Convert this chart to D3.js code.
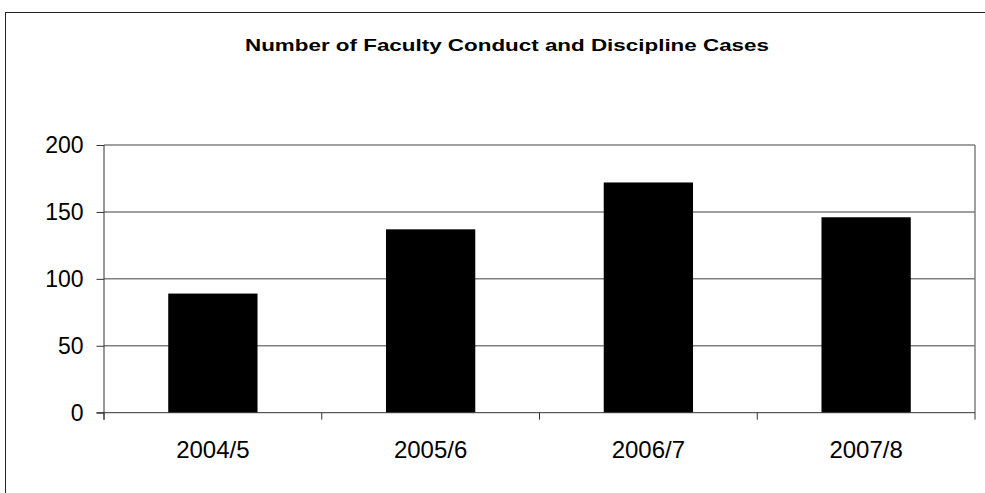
<!DOCTYPE html>
<html>
<head>
<meta charset="utf-8">
<script src="https://cdn.jsdelivr.net/npm/d3@7"></script>
<style>
  body { margin: 0; background: #fff; }
  text { font-family: "Liberation Sans", Arial, sans-serif; }
</style>
</head>
<body>
<div id="chart"></div>
<script>
const title = "Number of Faculty Conduct and Discipline Cases";
const years = ["2004/5", "2005/6", "2006/7", "2007/8"];
const cases = [89, 137, 172, 146];
const yTicks = [0, 50, 100, 150, 200];

const W = 985, H = 493;
const plot = { left: 104, right: 975, top: 145, bottom: 412.7 };

const svg = d3.select("#chart").append("svg")
  .attr("width", W)
  .attr("height", H);

// outer chart frame (runs off the right and bottom of the picture)
svg.append("rect")
  .attr("x", 5.5).attr("y", 12.5)
  .attr("width", 1000).attr("height", 500)
  .attr("fill", "#fff")
  .attr("stroke", "#222")
  .attr("stroke-width", 1);

// title looks stretched wide in the original
svg.append("text")
  .attr("x", 507)
  .attr("y", 51)
  .attr("text-anchor", "middle")
  .attr("textLength", 524)
  .attr("lengthAdjust", "spacingAndGlyphs")
  .style("font-size", "16.5px")
  .style("font-weight", "bold")
  .text(title);

const x = d3.scaleBand()
  .domain(years)
  .range([plot.left, plot.right])
  .paddingInner(0.59)
  .paddingOuter(0.295);

const y = d3.scaleLinear()
  .domain([0, 200])
  .range([plot.bottom, plot.top]);

// gridlines
svg.append("g")
  .selectAll("line")
  .data(yTicks.filter(d => d > 0))
  .join("line")
  .attr("x1", plot.left).attr("x2", plot.right)
  .attr("y1", d => y(d)).attr("y2", d => y(d))
  .attr("stroke", "#808080")
  .attr("stroke-width", 1.5);

// plot area right edge
svg.append("line")
  .attr("x1", plot.right).attr("x2", plot.right)
  .attr("y1", plot.top).attr("y2", plot.bottom)
  .attr("stroke", "#808080")
  .attr("stroke-width", 1.5);

svg.append("g")
  .selectAll("rect")
  .data(cases)
  .join("rect")
  .attr("x", (d, i) => x(years[i]))
  .attr("y", d => y(d))
  .attr("width", x.bandwidth())
  .attr("height", d => y(0) - y(d))
  .attr("fill", "#000");

// y axis
const yAxis = svg.append("g")
  .attr("transform", `translate(${plot.left},0)`)
  .call(d3.axisLeft(y).tickValues(yTicks).tickSize(7.5).tickPadding(13).tickSizeOuter(0));
yAxis.select(".domain").remove();
yAxis.append("line")
  .attr("x1", 0).attr("x2", 0)
  .attr("y1", plot.top).attr("y2", plot.bottom + 7)
  .attr("stroke", "#333");
yAxis.selectAll(".tick line").attr("stroke", "#333");
yAxis.selectAll(".tick text")
  .attr("fill", "#000")
  .style("font-size", "23px");

// x axis
const step = x.step();
const xAxis = svg.append("g")
  .attr("transform", `translate(0,${plot.bottom})`);
xAxis.append("line")
  .attr("x1", plot.left - 7.5).attr("x2", plot.right)
  .attr("stroke", "#333");
xAxis.selectAll(".xtick")
  .data(d3.range(years.length + 1))
  .join("line")
  .attr("class", "xtick")
  .attr("x1", i => plot.left + i * step)
  .attr("x2", i => plot.left + i * step)
  .attr("y1", 0).attr("y2", 7)
  .attr("stroke", "#333");
xAxis.selectAll(".xlabel")
  .data(years)
  .join("text")
  .attr("class", "xlabel")
  .attr("x", d => x(d) + x.bandwidth() / 2)
  .attr("y", 45.5)
  .attr("text-anchor", "middle")
  .style("font-size", "24px")
  .text(d => d);
</script>
</body>
</html>
